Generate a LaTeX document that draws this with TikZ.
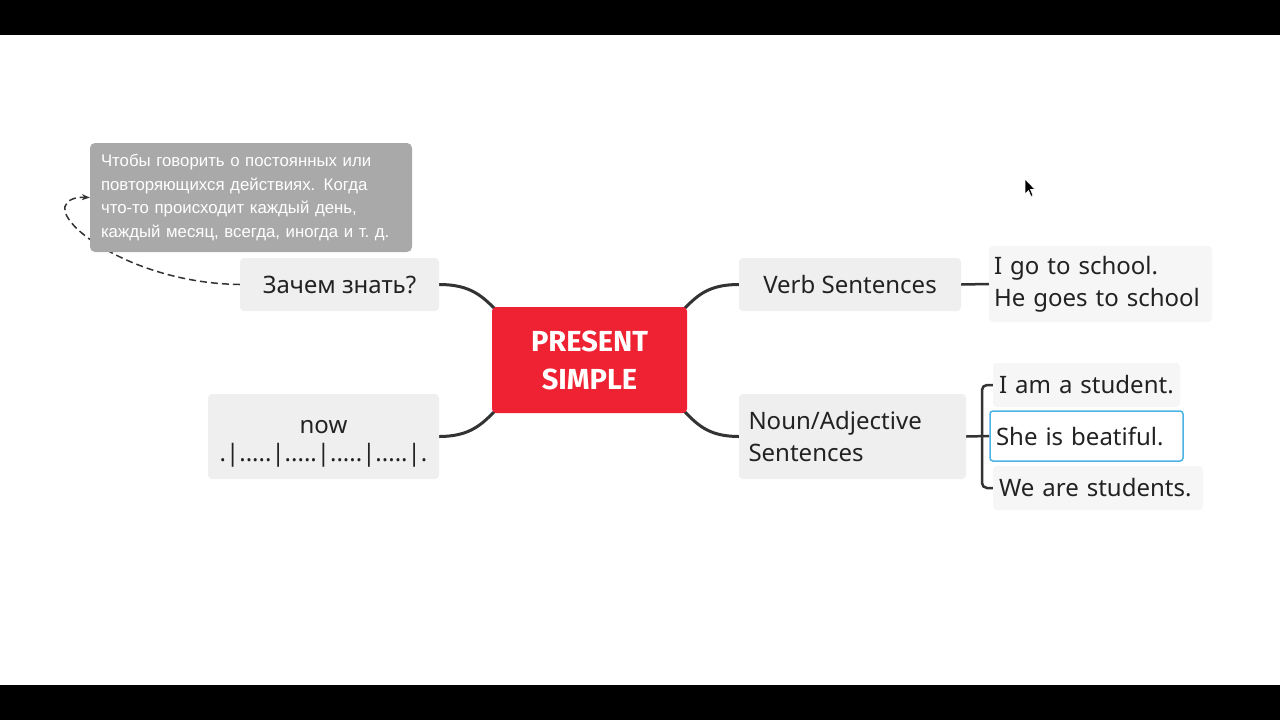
\documentclass[tikz,border=0pt]{standalone}
\usepackage{fontspec}
\setmainfont{Noto Sans}
\newfontfamily\tipfont{Liberation Sans}
\newfontfamily\titlefont{Fira Sans}
\usetikzlibrary{arrows.meta}
\definecolor{boxgray}{HTML}{EFEFEF}
\definecolor{exgray}{HTML}{F6F6F6}
\definecolor{tipgray}{HTML}{A9A9A9}
\definecolor{mainred}{HTML}{EE2233}
\definecolor{linedark}{HTML}{333333}
\definecolor{txt}{HTML}{222222}
\definecolor{selblue}{HTML}{4AB4E6}
\pgfdeclarelayer{bg}
\pgfdeclarelayer{conn}
\pgfsetlayers{bg,conn,main}
\tikzset{
  branch/.style={fill=boxgray, rounded corners=4pt, inner sep=0pt, text=txt,
    font=\fontsize{24}{32}\selectfont},
  example/.style={fill=exgray, rounded corners=4pt, inner sep=0pt, text=txt,
    font=\fontsize{24}{32}\selectfont},
  conn/.style={draw=linedark, line width=3pt},
  bracket/.style={draw=linedark, line width=2.5pt, rounded corners=5pt},
}
\begin{document}
\begin{tikzpicture}[x=1pt,y=-1pt]
\begin{pgfonlayer}{bg}
  \fill[white] (0,0) rectangle (1280,720);
  \fill[black] (0,0) rectangle (1280,35);
  \fill[black] (0,685) rectangle (1280,720);
\end{pgfonlayer}
\useasboundingbox (0,0) rectangle (1280,720);

% tooltip
\node[fill=tipgray, rounded corners=5pt, minimum width=322pt, minimum height=109pt,
  inner sep=0pt, text=white, text width=300pt, align=left,
  font=\tipfont\fontsize{16.8}{23.5}\selectfont] (tip) at (251,197.5)
  {Чтобы говорить о постоянных или\\повторяющихся действиях. Когда\\что-то происходит каждый день,\\каждый месяц, всегда, иногда и т.\ д.};

% central
\node[fill=mainred, rounded corners=4pt, minimum width=195pt, minimum height=106pt,
  inner sep=0pt, text=white, align=center,
  font=\titlefont\bfseries\fontsize{29}{38}\selectfont] (c) at (589.5,360) {PRESENT\\SIMPLE};

% left branches
\node[branch, minimum width=199pt, minimum height=53pt] (z) at (339.5,284.5) {Зачем знать?};
\node[branch, minimum width=231pt, minimum height=85pt, align=center] (now) at (323.5,436.5)
  {\rule{0pt}{27pt}now\\[-4pt].|.....|.....|.....|.....|.};

% right branches
\node[branch, minimum width=222pt, minimum height=53pt] (verb) at (850,284.5) {Verb Sentences};
\node[branch, minimum width=227pt, minimum height=85pt, text width=208pt, align=left] (noun) at (852.5,436.5)
  {Noun/Adjective\\Sentences};

% examples
\node[example, minimum width=223pt, minimum height=76pt, text width=213pt, align=left] (ex1) at (1100.5,284)
  {I go to school.\\He goes to school};
\node[example, minimum width=187pt, minimum height=44pt, text width=175pt, align=left] (ex2) at (1086.5,385)
  {I am a student.};
\node[example, fill=white, draw=selblue, line width=1.5pt, rounded corners=3pt,
  minimum width=193pt, minimum height=50pt, text width=181pt, align=left] (ex3) at (1086.5,436)
  {She is beatiful.};
\node[example, minimum width=210pt, minimum height=44pt, text width=198pt, align=left] (ex4) at (1098,488)
  {We are students.};

\coordinate (br) at (982,436);

\begin{pgfonlayer}{conn}
  \draw[conn] (z.east) .. controls +(32,0) and +(-14,-14) .. ([shift={(5,4)}]c.north west);
  \draw[conn] (now.east) .. controls +(32,0) and +(-14,14) .. ([shift={(5,-4)}]c.south west);
  \draw[conn] (verb.west) .. controls +(-32,0) and +(14,-14) .. ([shift={(-5,4)}]c.north east);
  \draw[conn] (noun.west) .. controls +(-32,0) and +(14,14) .. ([shift={(-5,-4)}]c.south east);
  \draw[conn, line width=2.5pt] (verb.east) -- (ex1.west);
  \draw[bracket] (noun.east) -- (ex3.west);
  \draw[bracket] (ex2.west) -| (br) |- (ex4.west);
  \draw[draw=linedark, line width=1.5pt, dash pattern=on 7pt off 4pt, -{Stealth[length=8pt,width=6pt]}]
    (z.west) .. controls (130,283) and (50,220) .. (67,203)
    .. controls (71,198) and (78,197) .. (tip.west);
\end{pgfonlayer}

% mouse cursor
\filldraw[fill=black, draw=white, line width=0.6pt]
  (1025,179) -- (1025,194) -- (1028.5,190.5) -- (1031,196.5) -- (1033,195.5)
  -- (1030.5,189.5) -- (1035,189.5) -- cycle;
\end{tikzpicture}
\end{document}
